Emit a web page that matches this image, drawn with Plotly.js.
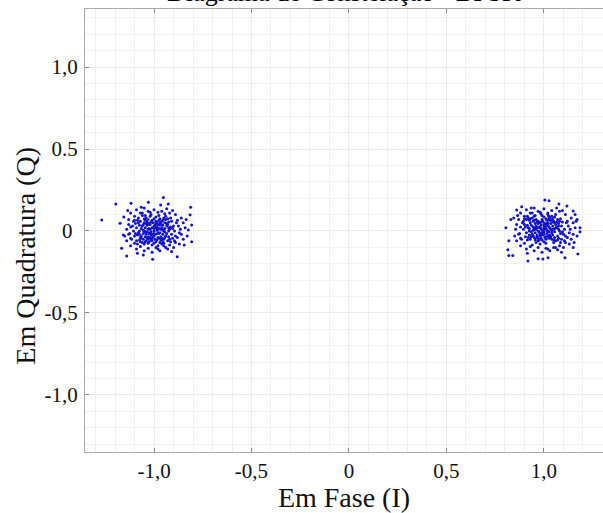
<!DOCTYPE html>
<html>
<head>
<meta charset="utf-8">
<script src="https://cdn.plot.ly/plotly-3.0.1.min.js"></script>
<style>html,body{margin:0;padding:0;background:#fff;}#chart{width:603px;height:513px;}</style>
</head>
<body>
<div id="chart"></div>
<script>
// Symbol -1 cluster: [I, Q] pairs
const clusterMinus = [
  [-1.268,0.067],[-1.196,0.165],[-1.118,0.169],[-1.029,0.175],[-0.952,0.205],[-0.966,0.159],[-0.927,0.165],[-0.812,0.145],[-0.815,0.099],[-0.807,0.037],
  [-0.824,0.006],[-0.807,-0.065],[-0.881,-0.157],[-1.007,-0.173],[-1.055,-0.146],[-1.140,-0.152],[-1.166,-0.105],[-1.174,0.047],[-1.157,-0.024],
  [-1.12,0.11],[-1.09,0.13],[-1.05,0.14],[-1.00,0.13],[-0.96,0.12],[-0.92,0.11],[-0.89,0.10],[-0.86,0.08],[-0.85,0.05],[-0.84,0.02],
  [-0.86,-0.02],[-0.85,-0.05],[-0.87,-0.08],[-0.90,-0.10],[-0.93,-0.11],[-0.97,-0.12],[-1.01,-0.13],[-1.05,-0.12],[-1.09,-0.11],[-1.12,-0.09],
  [-1.14,-0.06],[-1.15,-0.03],[-1.14,0.01],[-1.13,0.04],[-1.13,0.07],[-1.10,0.09],[-1.07,0.11],[-1.03,0.12],[-0.98,0.115],[-0.94,0.09],
  [-0.88,0.065],[-0.875,0.03],[-0.87,-0.01],[-0.88,-0.04],[-0.89,-0.07],[-0.92,-0.085],[-0.95,-0.09],[-0.99,-0.10],[-1.03,-0.105],[-1.07,-0.095],
  [-1.10,-0.075],[-1.12,-0.045],[-1.125,-0.015],[-1.12,0.025],[-1.105,0.06],[-1.08,0.08],[-1.045,0.095],[-1.015,0.10],[-0.975,0.095],[-0.945,0.105],
  [-0.905,0.125],[-0.935,0.135],[-1.065,0.145],[-1.135,0.125],[-0.845,-0.085],[-0.83,-0.03],[-0.835,0.07],[-0.91,-0.125],[-1.085,-0.135],[-1.155,0.085],
  [-1.00,0.00],[-0.98,0.01],[-1.02,-0.01],[-0.99,-0.02],[-1.01,0.02],[-0.97,-0.01],[-1.03,0.01],[-1.00,0.03],[-1.00,-0.03],[-0.96,0.02],
  [-1.04,-0.02],[-0.98,0.04],[-1.02,0.04],[-0.98,-0.04],[-1.02,-0.04],[-0.95,0.00],[-1.05,0.00],[-0.94,-0.03],[-1.06,0.03],[-0.97,0.05],
  [-1.03,-0.05],[-0.99,0.06],[-1.01,-0.06],[-0.93,0.04],[-1.07,-0.04],[-0.95,-0.05],[-1.05,0.05],[-0.96,0.06],[-1.04,-0.06],[-0.92,0.01],
  [-1.08,-0.01],[-0.91,-0.02],[-1.09,0.02],[-0.94,0.07],[-1.06,-0.07],[-1.00,0.075],[-1.00,-0.075],[-0.97,-0.07],[-1.03,0.07],[-0.93,-0.06],
  [-1.07,0.06],[-0.90,0.03],[-1.10,-0.03],[-0.91,0.06],[-1.09,-0.06],[-0.92,-0.05],[-1.08,0.05],[-0.985,0.025],[-1.015,-0.025],[-0.965,-0.035],
  [-1.035,0.035],[-0.955,0.035],[-1.045,-0.035],[-0.975,0.015],[-1.025,-0.015],[-0.945,0.015],[-1.055,-0.015],[-0.985,-0.055],[-1.015,0.055],[-0.935,-0.015],
  [-1.065,0.015],[-0.925,0.055],[-1.075,-0.055],[-0.955,-0.065],[-1.045,0.065],[-0.905,-0.045],[-1.095,0.045],[-0.99,0.085],[-1.01,-0.085],[-0.95,0.08],
  [-1.05,-0.08],[-0.96,-0.08],[-1.04,0.08],[-0.915,0.08],[-1.085,-0.08],[-0.895,0.00],[-1.105,0.00],[-0.97,0.035],[-1.03,-0.035],[-0.99,0.045],
  [-1.01,-0.045],[-0.975,-0.015],[-1.025,0.015],[-0.955,-0.02],[-1.045,0.02],[-1.00,0.015],[-1.00,-0.015],[-0.985,0.005],[-1.015,-0.005],[-0.965,0.045],
  [-1.035,-0.045],[-0.945,0.05],[-1.055,-0.05],[-0.925,-0.035],[-1.075,0.035],[-0.915,0.025],[-1.085,-0.025],[-0.98,-0.09],[-1.02,0.09],[-1.06,0.095],
  [-0.995,0.035],[-1.005,-0.035],[-0.965,0.01],[-1.035,-0.005],[-0.975,-0.045],[-1.025,0.045],[-0.955,0.065],[-1.045,-0.065],[-0.935,0.03],[-1.065,-0.03],
  [-0.99,0.02],[-1.01,-0.02],[-0.98,-0.01],[-1.02,0.01],[-0.96,-0.045],[-1.04,0.045],[-0.945,-0.04],[-1.055,0.04],[-0.925,0.0],[-1.075,0.0],
  [-0.99,-0.065],[-1.01,0.065],[-0.97,0.075],[-1.03,-0.075],[-0.95,-0.075],[-1.05,0.075],[-0.93,0.075],[-1.07,-0.065],[-0.915,-0.065],[-1.085,0.065],
  [-0.905,0.015],[-1.095,-0.015],[-0.985,0.055],[-1.015,-0.055],[-0.965,-0.055],[-1.035,0.055],[-0.945,-0.005],[-1.055,0.005],[-0.975,0.065],[-1.025,-0.065],
  [-1.005,0.05],[-0.995,-0.05],[-0.955,0.005],[-1.045,-0.005],[-0.935,0.045],[-1.065,-0.045],[-0.925,0.02],[-1.075,-0.02],[-1.11,0.03],[-0.89,-0.03],
  [-1.115,-0.05],[-0.885,0.05],[-1.10,0.065],[-0.895,-0.06],[-1.06,0.11],[-0.94,-0.10],[-1.02,0.115],[-0.98,-0.11],[-1.13,-0.02],[-0.865,0.01]
];

// Symbol +1 cluster: [I, Q] pairs
const clusterPlus = [
  [1.005,0.189],[1.026,0.185],[1.077,0.165],[1.118,0.152],[0.86,0.128],[0.886,0.148],[1.150,0.122],[1.185,0.02],[1.185,-0.005],[0.918,-0.183],
  [0.995,-0.171],[1.021,-0.163],[1.108,-0.163],[0.805,0.02],[0.815,-0.115],[1.174,-0.14],[0.82,-0.15],[0.84,-0.15],[1.16,0.10],[1.17,0.07],
  [1.15,-0.10],[0.97,-0.17],[0.83,0.07],[0.82,-0.06],
  [0.88,0.11],[0.91,0.13],[0.95,0.14],[1.00,0.135],[1.04,0.125],[1.08,0.12],[1.11,0.10],[1.14,0.08],[1.15,0.05],[1.16,0.02],
  [1.15,-0.02],[1.14,-0.05],[1.13,-0.08],[1.10,-0.10],[1.07,-0.115],[1.03,-0.12],[0.99,-0.13],[0.95,-0.12],[0.91,-0.11],[0.88,-0.09],
  [0.86,-0.06],[0.85,-0.03],[0.855,0.01],[0.86,0.04],[0.87,0.07],[0.90,0.09],[0.93,0.11],[0.97,0.12],[1.02,0.11],[1.06,0.10],
  [1.12,0.06],[1.125,0.03],[1.13,-0.01],[1.12,-0.04],[1.11,-0.07],[1.08,-0.09],[1.05,-0.10],[1.01,-0.105],[0.97,-0.10],[0.93,-0.095],
  [0.90,-0.075],[0.88,-0.045],[0.875,-0.015],[0.88,0.025],[0.895,0.06],[0.92,0.08],[0.955,0.095],[0.985,0.105],[1.025,0.09],[1.055,0.085],
  [1.095,0.125],[1.065,0.14],[0.935,0.14],[0.865,0.095],[1.155,-0.07],[1.17,-0.03],[1.165,0.06],[1.09,-0.13],[0.915,-0.135],[0.845,0.08],
  [1.00,0.01],[0.98,0.02],[1.02,0.00],[0.99,-0.01],[1.01,0.03],[0.97,0.00],[1.03,0.02],[1.00,0.04],[1.00,-0.02],[0.96,0.03],
  [1.04,-0.01],[0.98,0.05],[1.02,0.05],[0.98,-0.03],[1.02,-0.03],[0.95,0.01],[1.05,0.01],[0.94,-0.02],[1.06,0.04],[0.97,0.06],
  [1.03,-0.04],[0.99,0.07],[1.01,-0.05],[0.93,0.05],[1.07,-0.03],[0.95,-0.04],[1.05,0.06],[0.96,0.07],[1.04,-0.05],[0.92,0.02],
  [1.08,0.00],[0.91,-0.01],[1.09,0.03],[0.94,0.08],[1.06,-0.06],[1.00,0.085],[1.00,-0.065],[0.97,-0.06],[1.03,0.08],[0.93,-0.05],
  [1.07,0.07],[0.90,0.04],[1.10,-0.02],[0.91,0.07],[1.09,-0.05],[0.92,-0.04],[1.08,0.06],[0.985,0.035],[1.015,-0.015],[0.965,-0.025],
  [1.035,0.045],[0.955,0.045],[1.045,-0.025],[0.975,0.025],[1.025,-0.005],[0.945,0.025],[1.055,-0.005],[0.985,-0.045],[1.015,0.065],[0.935,-0.005],
  [1.065,0.025],[0.925,0.065],[1.075,-0.045],[0.955,-0.055],[1.045,0.075],[0.905,-0.035],[1.095,0.055],[0.99,0.095],[1.01,-0.075],[0.95,0.09],
  [1.05,-0.07],[0.96,-0.07],[1.04,0.09],[0.915,0.09],[1.085,-0.07],[0.895,0.01],[1.105,0.01],[0.97,0.045],[1.03,-0.025],[0.99,0.055],
  [1.01,-0.035],[0.975,-0.005],[1.025,0.025],[0.955,-0.01],[1.045,0.03],[1.00,0.025],[1.00,-0.005],[0.985,0.015],[1.015,0.005],[0.965,0.055],
  [1.035,-0.035],[0.945,0.06],[1.055,-0.04],[0.925,-0.025],[1.075,0.045],[0.915,0.035],[1.085,-0.015],[0.98,-0.08],[1.02,0.10],[0.94,-0.085],
  [1.005,0.045],[0.995,-0.025],[1.035,0.01],[0.965,0.02],[1.025,-0.045],[0.975,0.055],[1.045,0.055],[0.955,-0.045],[1.065,0.02],[0.935,0.035],
  [1.01,0.015],[0.99,0.005],[1.02,0.035],[0.98,-0.015],[1.04,0.0],[0.96,0.01],[1.055,0.05],[0.945,-0.03],[1.075,0.01],[0.925,0.015],
  [1.01,0.075],[0.99,-0.055],[1.03,0.065],[0.97,-0.045],[1.05,-0.055],[0.95,0.065],[1.07,-0.055],[0.93,0.075],[1.085,0.075],[0.915,-0.055],
  [1.095,-0.005],[0.905,0.025],[1.015,0.045],[0.985,-0.025],[1.035,0.065],[0.965,-0.035],[1.055,0.015],[0.945,0.005],[1.025,0.075],[0.975,-0.055],
  [0.995,0.06],[1.005,-0.04],[1.045,0.01],[0.955,0.02],[1.065,0.055],[0.935,-0.035],[1.075,0.03],[0.925,0.0],[0.89,0.05],[1.11,-0.03],
  [0.885,-0.05],[1.115,0.05],[0.90,0.075],[1.105,-0.06],[0.94,0.11],[1.06,-0.10],[0.98,0.115],[1.02,-0.11],[0.87,-0.02],[1.135,0.01]
];

const xTickVals = [-1, -0.5, 0, 0.5, 1];
const xTickText = ["-1,0", "-0,5", "0", "0,5", "1,0"];
const yTickVals = [-1, -0.5, 0, 0.5, 1];
const yTickText = ["-1,0", "-0,5", "0\u00a0", "0.5", "1,0"];

const titleText = "Diagrama de Constelação - BPSK";
const xTitle = "Em Fase (I)";
const yTitle = "Em Quadratura (Q)";

const serif = "Liberation Serif, Times New Roman, serif";
const markerStyle = {size: 3, color: "#1212cc"};

const traces = [clusterMinus, clusterPlus].map(pts => ({
  type: "scatter",
  mode: "markers",
  x: pts.map(p => p[0]),
  y: pts.map(p => p[1]),
  marker: markerStyle,
  hoverinfo: "x+y",
  showlegend: false
}));

const layout = {
  width: 603,
  height: 513,
  margin: {l: 85, r: 0, t: 9, b: 61, pad: 0},
  paper_bgcolor: "#ffffff",
  plot_bgcolor: "#ffffff",
  showlegend: false,
  title: {
    text: titleText,
    font: {family: serif, size: 26, color: "#000"},
    xref: "paper", x: 0.5, xanchor: "center",
    yref: "container", y: 0.999, yanchor: "bottom"
  },
  xaxis: {
    range: [-1.354, 1.303],
    tickvals: xTickVals,
    ticktext: xTickText,
    ticks: "inside", ticklen: 4, tickcolor: "#888",
    showline: true, linecolor: "#aaaaaa", linewidth: 1, mirror: "ticks",
    showgrid: true, gridcolor: "#ebebeb", zeroline: false,
    minor: {dtick: 0.1, tick0: 0, showgrid: true, gridcolor: "#f1f1f1", ticks: ""},
    tickfont: {family: serif, size: 21, color: "#111"},
    ticklabelstandoff: 0,
    title: {text: xTitle, font: {family: serif, size: 28, color: "#111"}, standoff: 4}
  },
  yaxis: {
    range: [-1.348, 1.354],
    tickvals: yTickVals,
    ticktext: yTickText,
    ticks: "inside", ticklen: 4, tickcolor: "#888",
    showline: true, linecolor: "#aaaaaa", linewidth: 1, mirror: false,
    showgrid: true, gridcolor: "#ebebeb", zeroline: false,
    minor: {dtick: 0.1, tick0: 0, showgrid: true, gridcolor: "#f1f1f1", ticks: ""},
    tickfont: {family: serif, size: 21, color: "#111"},
    ticklabelstandoff: 2
  },
  annotations: [{
    text: yTitle,
    xref: "paper", yref: "paper",
    x: -0.114, y: 0.443,
    xanchor: "center", yanchor: "middle",
    textangle: -90, showarrow: false,
    font: {family: serif, size: 28, color: "#111"}
  }]
};

Plotly.newPlot("chart", traces, layout, {displayModeBar: false});
</script>
</body>
</html>
